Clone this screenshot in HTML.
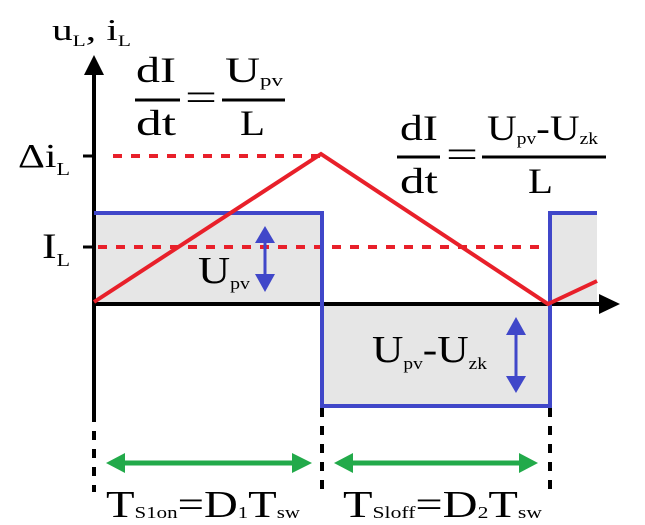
<!DOCTYPE html>
<html><head><meta charset="utf-8"><style>
html,body{margin:0;padding:0;background:#fff;}
svg{display:block;}
text{font-family:"Liberation Serif",serif;fill:#000;}
</style></head><body>
<svg width="645" height="525" viewBox="0 0 645 525" xmlns="http://www.w3.org/2000/svg">
<rect x="94" y="213" width="227" height="91" fill="#e6e6e6"/>
<rect x="321" y="304" width="229" height="102" fill="#e6e6e6"/>
<rect x="550" y="213" width="47" height="91" fill="#e6e6e6"/>
<line x1="113" y1="156" x2="320" y2="156" stroke="#e8202a" stroke-width="4" stroke-dasharray="9,9"/>
<line x1="98" y1="247" x2="548" y2="247" stroke="#e8202a" stroke-width="4" stroke-dasharray="9,9"/>
<line x1="94" y1="75" x2="94" y2="413" stroke="#000" stroke-width="4"/>
<polygon points="94,55 84,75 104,75" fill="#000"/>
<line x1="94" y1="304" x2="600" y2="304" stroke="#000" stroke-width="4"/>
<polygon points="620,304 599,294 599,314" fill="#000"/>
<line x1="83" y1="156" x2="94" y2="156" stroke="#000" stroke-width="3"/>
<line x1="83" y1="247" x2="94" y2="247" stroke="#000" stroke-width="3"/>
<line x1="94" y1="413" x2="94" y2="492" stroke="#000" stroke-width="4" stroke-dasharray="9,9"/>
<line x1="322" y1="408" x2="322" y2="492" stroke="#000" stroke-width="4" stroke-dasharray="9,9"/>
<line x1="550" y1="408" x2="550" y2="492" stroke="#000" stroke-width="4" stroke-dasharray="9,9"/>
<polyline points="94,213 322,213 322,406 550,406 550,213 597,213" fill="none" stroke="#4047c9" stroke-width="4"/>
<polyline points="94,302 321,154 548,304 597,281" fill="none" stroke="#e8202a" stroke-width="4"/>
<line x1="265" y1="240" x2="265" y2="280" stroke="#4047c9" stroke-width="3"/>
<polygon points="265,226 255,243 275,243" fill="#4047c9"/>
<polygon points="265,292 255,274 275,274" fill="#4047c9"/>
<line x1="516" y1="330" x2="516" y2="380" stroke="#4047c9" stroke-width="3"/>
<polygon points="516,317 506,335 526,335" fill="#4047c9"/>
<polygon points="516,393 506,376 526,376" fill="#4047c9"/>
<line x1="120" y1="463" x2="300" y2="463" stroke="#22aa4a" stroke-width="5"/>
<polygon points="106,463 125,453 125,473" fill="#22aa4a"/>
<polygon points="312,463 292,453 292,473" fill="#22aa4a"/>
<line x1="348" y1="463" x2="525" y2="463" stroke="#22aa4a" stroke-width="5"/>
<polygon points="334,463 353,453 353,473" fill="#22aa4a"/>
<polygon points="538,463 519,453 519,473" fill="#22aa4a"/>

<text x="52" y="40" font-size="31" textLength="79" lengthAdjust="spacingAndGlyphs">u<tspan font-size="16" dy="6">L</tspan><tspan dy="-6">, i</tspan><tspan font-size="16" dy="6">L</tspan></text>
<text x="18" y="167" font-size="34" textLength="52" lengthAdjust="spacingAndGlyphs">Δi<tspan font-size="18" dy="8">L</tspan></text>
<text x="42" y="258" font-size="36" textLength="28" lengthAdjust="spacingAndGlyphs">I<tspan font-size="18" dy="8">L</tspan></text>

<text x="136" y="82" font-size="36" textLength="40" lengthAdjust="spacingAndGlyphs">dI</text>
<line x1="135" y1="100" x2="180" y2="100" stroke="#000" stroke-width="3"/>
<text x="136" y="135" font-size="36" textLength="40" lengthAdjust="spacingAndGlyphs">dt</text>
<text x="185" y="110" font-size="38" textLength="32" lengthAdjust="spacingAndGlyphs">=</text>
<text x="225" y="82" font-size="36" textLength="58" lengthAdjust="spacingAndGlyphs">U<tspan font-size="17" dy="4">pv</tspan></text>
<line x1="222" y1="100" x2="285" y2="100" stroke="#000" stroke-width="3"/>
<text x="240" y="135" font-size="36" textLength="25" lengthAdjust="spacingAndGlyphs">L</text>

<text x="400" y="140" font-size="36" textLength="38" lengthAdjust="spacingAndGlyphs">dI</text>
<line x1="397" y1="157" x2="440" y2="157" stroke="#000" stroke-width="3"/>
<text x="400" y="193" font-size="36" textLength="38" lengthAdjust="spacingAndGlyphs">dt</text>
<text x="446" y="167" font-size="38" textLength="32" lengthAdjust="spacingAndGlyphs">=</text>
<text x="487" y="140" font-size="36" textLength="111" lengthAdjust="spacingAndGlyphs">U<tspan font-size="17" dy="4">pv</tspan><tspan dy="-4">-U</tspan><tspan font-size="17" dy="4">zk</tspan></text>
<line x1="482" y1="157" x2="606" y2="157" stroke="#000" stroke-width="3"/>
<text x="528" y="193" font-size="36" textLength="25" lengthAdjust="spacingAndGlyphs">L</text>

<text x="198" y="283" font-size="38" textLength="52" lengthAdjust="spacingAndGlyphs">U<tspan font-size="17" dy="6">pv</tspan></text>
<text x="372" y="362" font-size="38" textLength="115" lengthAdjust="spacingAndGlyphs">U<tspan font-size="17" dy="7">pv</tspan><tspan dy="-7">-U</tspan><tspan font-size="17" dy="7">zk</tspan></text>

<text x="106" y="517" font-size="38" textLength="194" lengthAdjust="spacingAndGlyphs">T<tspan font-size="17" dy="1">S1on</tspan><tspan dy="-1">=D</tspan><tspan font-size="17" dy="1">1</tspan><tspan dy="-1">T</tspan><tspan font-size="17" dy="1">sw</tspan></text>
<text x="343" y="517" font-size="38" textLength="199" lengthAdjust="spacingAndGlyphs">T<tspan font-size="17" dy="1">Sloff</tspan><tspan dy="-1">=D</tspan><tspan font-size="17" dy="1">2</tspan><tspan dy="-1">T</tspan><tspan font-size="17" dy="1">sw</tspan></text>
</svg>
</body></html>
